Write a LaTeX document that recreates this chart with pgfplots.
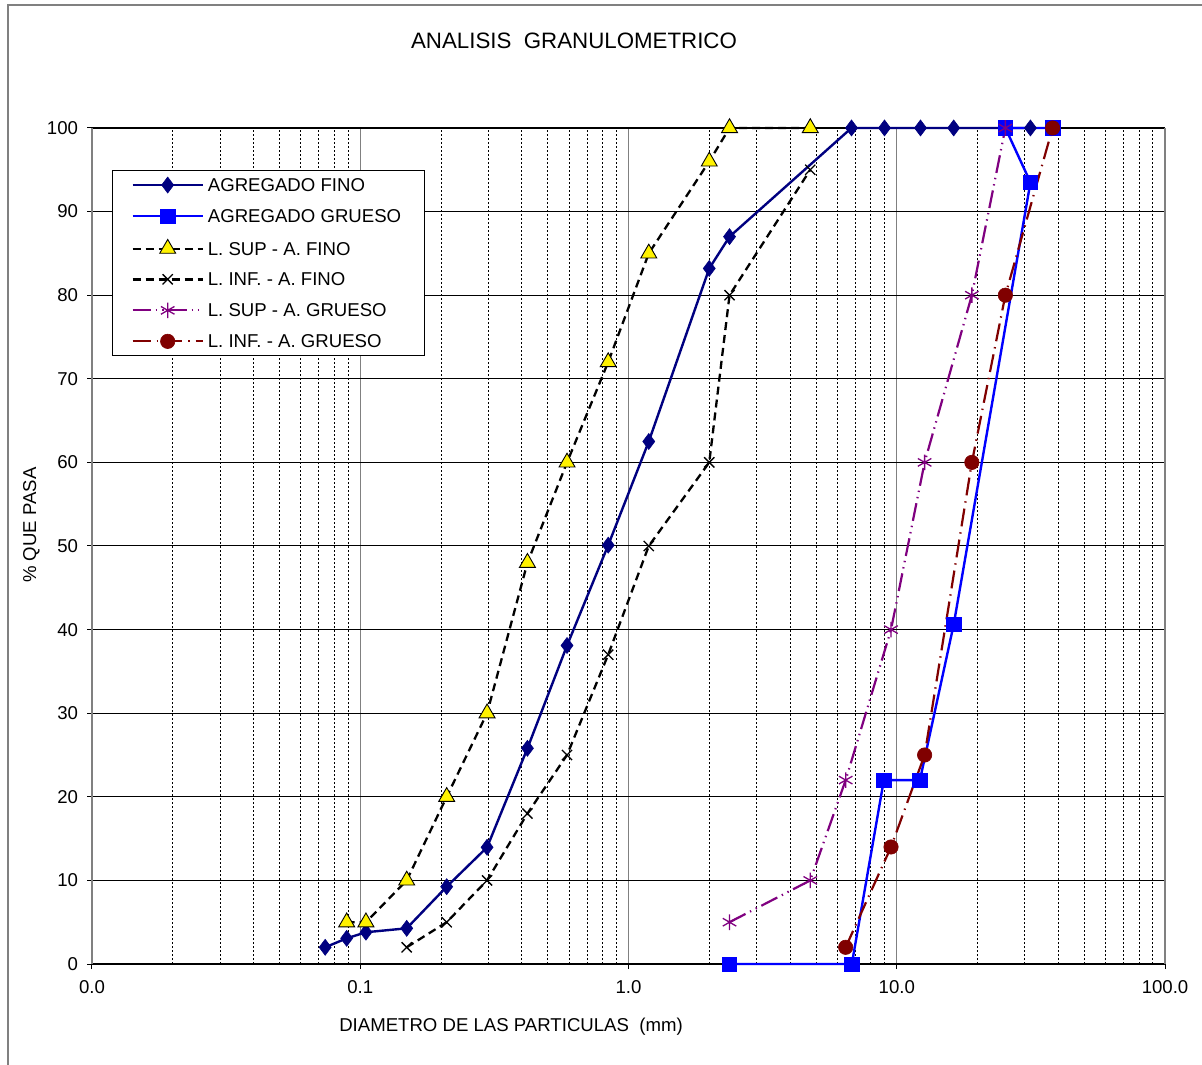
\documentclass[border=0pt]{standalone}
\usepackage{pgfplots}
\pgfplotsset{compat=1.18}
\usepackage{fontspec}
\setmainfont{Liberation Sans}
\definecolor{navyc}{RGB}{0,0,128}
\definecolor{bluec}{RGB}{0,0,255}
\definecolor{purplec}{RGB}{128,0,128}
\definecolor{maroonc}{RGB}{128,0,0}
\definecolor{framegray}{RGB}{128,128,128}
\begin{document}
\begin{tikzpicture}[x=0.5bp,y=0.5bp]
\useasboundingbox (0,0) rectangle (1202,1064);
\fill[white] (0,0) rectangle (1202,1064);
\draw[framegray, line width=0.75bp] (8,-20) -- (8,1059) -- (1230,1059);
\coordinate (AX) at (92,100);
\begin{axis}[
  at={(AX)}, anchor=south west,
  scale only axis, width=536.5bp, height=418bp,
  xmode=log, log basis x=10,
  xmin=0.01, xmax=100, ymin=0, ymax=100,
  clip=false,
  xtick={0.01,0.1,1,10,100},
  xticklabels={0.0,0.1,1.0,10.0,100.0},
  minor xtick={0.02,0.03,0.04,0.05,0.06,0.07,0.08,0.09,0.2,0.3,0.4,0.5,0.6,0.7,0.8,0.9,2,3,4,5,6,7,8,9,20,30,40,50,60,70,80,90},
  ytick={0,10,20,30,40,50,60,70,80,90,100},
  yticklabels={0,10,20,30,40,50,60,70,80,90,100},
  xmajorgrids, xminorgrids, ymajorgrids,
  major x grid style={framegray, line width=0.6bp, solid},
  major y grid style={black, line width=0.5bp, solid},
  minor grid style={black, line width=0.45bp, dash pattern=on 1bp off 1bp},
  tick align=outside, major tick length=2.5bp, minor tick length=0pt,
  tick pos=left,
  separate axis lines,
  x axis line style={black, line width=1bp},
  y axis line style={framegray, line width=1bp},
  tick style={black, line width=0.5bp},
  ticklabel style={font=\fontsize{9.3bp}{11bp}\selectfont},
  xticklabel style={yshift=-2bp},
  yticklabel style={xshift=-1bp},
  title={ANALISIS\ \ GRANULOMETRICO},
  title style={at={(axis description cs:0.4492,1.0897)}, anchor=center, font=\fontsize{11.15bp}{13bp}\selectfont},
  xlabel={DIAMETRO DE LAS PARTICULAS\ \ (mm)},
  xlabel style={at={(axis description cs:0.3905,-0.0813)}, anchor=base, font=\fontsize{9.3bp}{11bp}\selectfont},
  ylabel={\% QUE PASA},
  ylabel style={at={(axis description cs:-0.0564,0.525)}, anchor=center, font=\fontsize{9.3bp}{11bp}\selectfont},
  legend cell align=left,
  legend style={at={(axis description cs:0.01864,0.9498)}, anchor=north west,
    draw=black, line width=0.5bp, fill=white,
    font=\fontsize{9.3bp}{11bp}\selectfont,
    inner xsep=9.5bp, inner ysep=3.3bp, row sep=7.85bp,
    nodes={inner ysep=0pt, inner xsep=2bp, text height=7bp, text depth=0.5bp}},
  legend image code/.code={
    \draw[#1] (0bp,0bp) -- (35bp,0bp);
    \draw[#1] plot coordinates {(17.5bp,0bp)};
  },
]
\addplot[color=navyc, line width=1.2bp, mark=diamond*, mark size=4bp, mark options={fill=navyc, draw=navyc, line width=0.3bp}]
coordinates {(0.074,2) (0.089,3.07) (0.105,3.8) (0.149,4.27) (0.21,9.25) (0.297,13.96) (0.42,25.8) (0.59,38.1) (0.84,50.1) (1.19,62.5) (2.0,83.2) (2.38,87.0) (6.78,100) (9.0,100) (12.26,100) (16.3,100) (31.5,100)};
\addlegendentry{AGREGADO FINO}
\addplot[color=bluec, line width=1.2bp, mark=square*, mark size=3.6bp, mark options={fill=bluec, draw=bluec, line width=0.3bp}]
coordinates {(2.38,0) (6.8,0) (8.95,22) (12.2,22) (16.3,40.6) (31.5,93.5) (25.4,100) (38.1,100)};
\addlegendentry{AGREGADO GRUESO}
\addplot[color=black, line width=1.15bp, dash pattern=on 4bp off 2.5bp, mark=triangle*, mark size=4.6bp, mark options={solid, fill=yellow, draw=black, line width=0.45bp}]
coordinates {(0.089,5) (0.105,5) (0.149,10) (0.21,20) (0.297,30) (0.42,48) (0.59,60) (0.84,72) (1.19,85) (2.0,96) (2.38,100) (4.76,100)};
\addlegendentry{L. SUP - A. FINO}
\addplot[color=black, line width=1.15bp, dash pattern=on 4bp off 2.5bp, mark=x, mark size=3.6bp, mark options={solid, line width=0.65bp}]
coordinates {(0.149,2) (0.21,5) (0.297,10) (0.42,18) (0.59,25) (0.84,37) (1.19,50) (2.0,60) (2.38,80) (4.76,95)};
\addlegendentry{L. INF. - A. FINO}
\addplot[color=purplec, line width=1.1bp, dash pattern=on 9bp off 2.5bp on 0.7bp off 2.5bp on 0.7bp off 2.5bp, mark=asterisk, mark size=3.9bp, mark options={solid, line width=0.65bp}]
coordinates {(2.38,5) (4.76,10) (6.45,22) (9.52,40) (12.7,60) (19.05,80) (25.4,100)};
\addlegendentry{L. SUP - A. GRUESO}
\addplot[color=maroonc, line width=1.1bp, dash pattern=on 9bp off 3bp on 0.7bp off 3bp, mark=*, mark size=3.6bp, mark options={solid, fill=maroonc, draw=maroonc, line width=0.3bp}]
coordinates {(6.45,2) (9.52,14) (12.7,25) (19.05,60) (25.4,80) (38.1,100)};
\addlegendentry{L. INF. - A. GRUESO}
\end{axis}
\end{tikzpicture}
\end{document}
